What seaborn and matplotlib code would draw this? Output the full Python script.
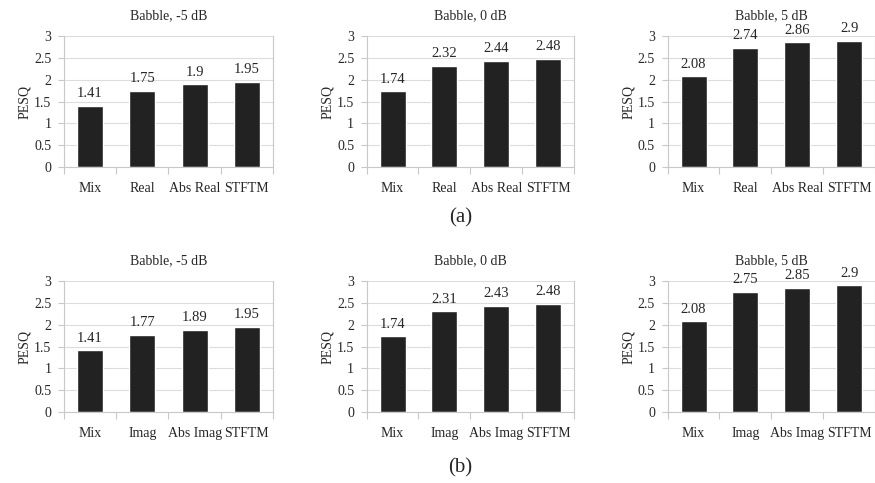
"""PESQ scores, babble noise: real vs imag"""
import numpy as np
import pandas as pd
import matplotlib
matplotlib.use("Agg")
import matplotlib.pyplot as plt
import seaborn as sns

snr_titles = ['Babble, -5 dB', 'Babble, 0 dB', 'Babble, 5 dB']
methods_a = ['Mix', 'Real', 'Abs Real', 'STFTM']
methods_b = ['Mix', 'Imag', 'Abs Imag', 'STFTM']

pesq_a_m5 = [1.41, 1.75, 1.9, 1.95]
pesq_a_0 = [1.74, 2.32, 2.44, 2.48]
pesq_a_5 = [2.08, 2.74, 2.86, 2.9]

pesq_b_m5 = [1.41, 1.77, 1.89, 1.95]
pesq_b_0 = [1.74, 2.31, 2.43, 2.48]
pesq_b_5 = [2.08, 2.75, 2.85, 2.9]

labels_a = ['1.41', '1.75', '1.9', '1.95', '1.74', '2.32', '2.44', '2.48', '2.08', '2.74', '2.86', '2.9']
labels_b = ['1.41', '1.77', '1.89', '1.95', '1.74', '2.31', '2.43', '2.48', '2.08', '2.75', '2.85', '2.9']

sns.set_style("white")
plt.rcParams['font.family'] = ['Liberation Serif', 'DejaVu Serif']

fig = plt.figure(figsize=(8.75, 4.83), dpi=100)

lefts = [0.073, 0.419, 0.763]
widths = [0.239, 0.237, 0.237]
bottoms = [0.654, 0.147]
grey = '#c8c8c8'

rows = [
    (methods_a, [pesq_a_m5, pesq_a_0, pesq_a_5], labels_a),
    (methods_b, [pesq_b_m5, pesq_b_0, pesq_b_5], labels_b),
]

for r, (methods, series, labels) in enumerate(rows):
    for c in range(3):
        ax = fig.add_axes([lefts[c], bottoms[r], widths[c], 0.271])
        df = pd.DataFrame({'method': methods, 'PESQ': series[c]})
        sns.barplot(data=df, x='method', y='PESQ', color='#222222',
                    width=0.5, saturation=1, ax=ax)
        ax.bar_label(ax.containers[0], labels=labels[c * 4:(c + 1) * 4],
                     padding=4, fontsize=10.5)
        ax.set_ylim(0, 3)
        ax.set_xlim(-0.5, 3.5)
        ax.set_yticks(np.arange(0, 3.01, 0.5))
        ax.set_yticklabels(['0', '0.5', '1', '1.5', '2', '2.5', '3'])
        ax.yaxis.grid(True, color='#dcdcdc', linewidth=0.8)
        ax.set_axisbelow(True)
        ax.set_xlabel('')
        ax.set_ylabel('PESQ', fontsize=10, labelpad=2)
        ax.set_title(snr_titles[c], fontsize=10, pad=12)
        # category boundary ticks, Excel style
        ax.set_xticks(np.arange(-0.5, 3.6, 1), minor=True)
        ax.tick_params(axis='x', which='minor', length=5, color=grey, width=0.8, bottom=True)
        ax.tick_params(axis='x', which='major', length=0, labelsize=10, pad=11)
        ax.tick_params(axis='y', length=4, color=grey, width=0.8, left=True,
                       labelsize=10, pad=5)
        ax.spines['top'].set_visible(False)
        for s in ['left', 'bottom', 'right']:
            ax.spines[s].set_color(grey)
            ax.spines[s].set_linewidth(0.8)

fig.text(0.526, 0.548, '(a)', ha='center', va='center', fontsize=15)
fig.text(0.526, 0.032, '(b)', ha='center', va='center', fontsize=15)

fig.savefig('out.png', dpi=100)
